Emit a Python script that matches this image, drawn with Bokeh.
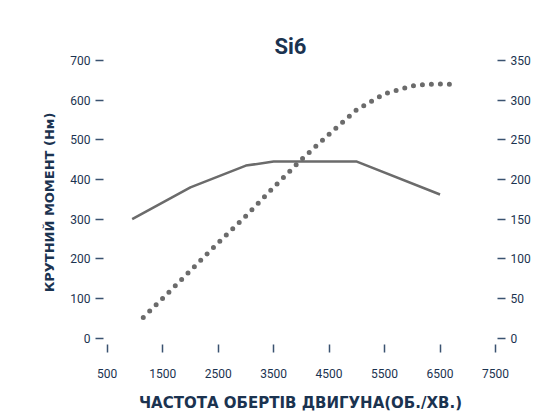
from bokeh.plotting import figure
from bokeh.models import LinearAxis, Range1d, FixedTicker, Title
from bokeh.embed import file_html
from bokeh.resources import INLINE

# Data
torque_rpm = [950, 2000, 3000, 3500, 5000, 6500]
torque_nm = [300, 380, 435, 445, 445, 362]

power_rpm = [1150, 1500, 2000, 2500, 3000, 3500, 4000, 4500, 5000, 5500, 6000, 6250, 6500, 6750]
power_val = [26, 50, 85, 120, 154, 190, 225, 257, 288, 308, 318, 320, 320.5, 320]

x_ticks = [500, 1500, 2500, 3500, 4500, 5500, 6500, 7500]
left_ticks = [0, 100, 200, 300, 400, 500, 600, 700]
right_ticks = [0, 50, 100, 150, 200, 250, 300, 350]

title_text = "Si6"

NAVY = "#1b3350"
TICK = "#3a5270"
GRAY = "#6b6b6b"
FONT = "Roboto"

p = figure(width=533, height=414, output_backend="svg", toolbar_location=None,
           x_range=Range1d(433, 7536), y_range=Range1d(-16.3, 700),
           min_border_left=103, min_border_right=36, min_border_top=60, min_border_bottom=68,
           title=title_text)
p.extra_y_ranges = {"power": Range1d(-8.15, 350)}

p.title.align = "left"
p.title.offset = 171
p.title.vertical_align = "top"
p.title.text_font = "Roboto"
p.title.text_font_size = "22px"
p.title.text_font_style = "bold"
p.title.text_color = NAVY
p.title.standoff = 0

# invisible spacer between the title and the plot area
spacer = Title(text=" ", text_font_size="1px", standoff=21, text_alpha=0)
p.add_layout(spacer, "above")

p.outline_line_color = None
p.xgrid.grid_line_color = None
p.ygrid.grid_line_color = None
p.background_fill_color = "white"
p.border_fill_color = "white"

xb = p.below[0]
yl = p.left[0]
right = LinearAxis(y_range_name="power")
p.add_layout(right, "right")

for ax in [xb, yl, right]:
    ax.axis_line_color = None
    ax.minor_tick_line_color = None
    ax.major_tick_in = 0
    ax.major_tick_out = 8
    ax.major_tick_line_color = TICK
    ax.major_tick_line_width = 1.5
    ax.major_label_text_color = NAVY
    ax.major_label_text_font = FONT
    ax.major_label_text_font_size = "12px"
    ax.axis_label_text_color = NAVY
    ax.axis_label_text_font = "DejaVu Sans"
    ax.axis_label_text_font_style = "bold"
    ax.axis_label_text_font_size = "13px"

xb.ticker = FixedTicker(ticks=x_ticks)
yl.ticker = FixedTicker(ticks=left_ticks)
right.ticker = FixedTicker(ticks=right_ticks)

xb.major_label_standoff = 16
yl.major_label_standoff = 5
right.major_label_standoff = 5

xb.axis_label = "ЧАСТОТА ОБЕРТІВ ДВИГУНА(ОБ./ХВ.)"
yl.axis_label = "КРУТНИЙ МОМЕНТ (Нм)"
xb.axis_label_text_font_size = "15px"
xb.axis_label_standoff = 13
yl.axis_label_standoff = 10

p.line(torque_rpm, torque_nm, line_width=2.5, color=GRAY)
p.line(power_rpm, power_val, y_range_name="power", line_width=5, color=GRAY,
       line_dash="0 9", line_cap="round")

open("out.html", "w").write(file_html(p, INLINE))
